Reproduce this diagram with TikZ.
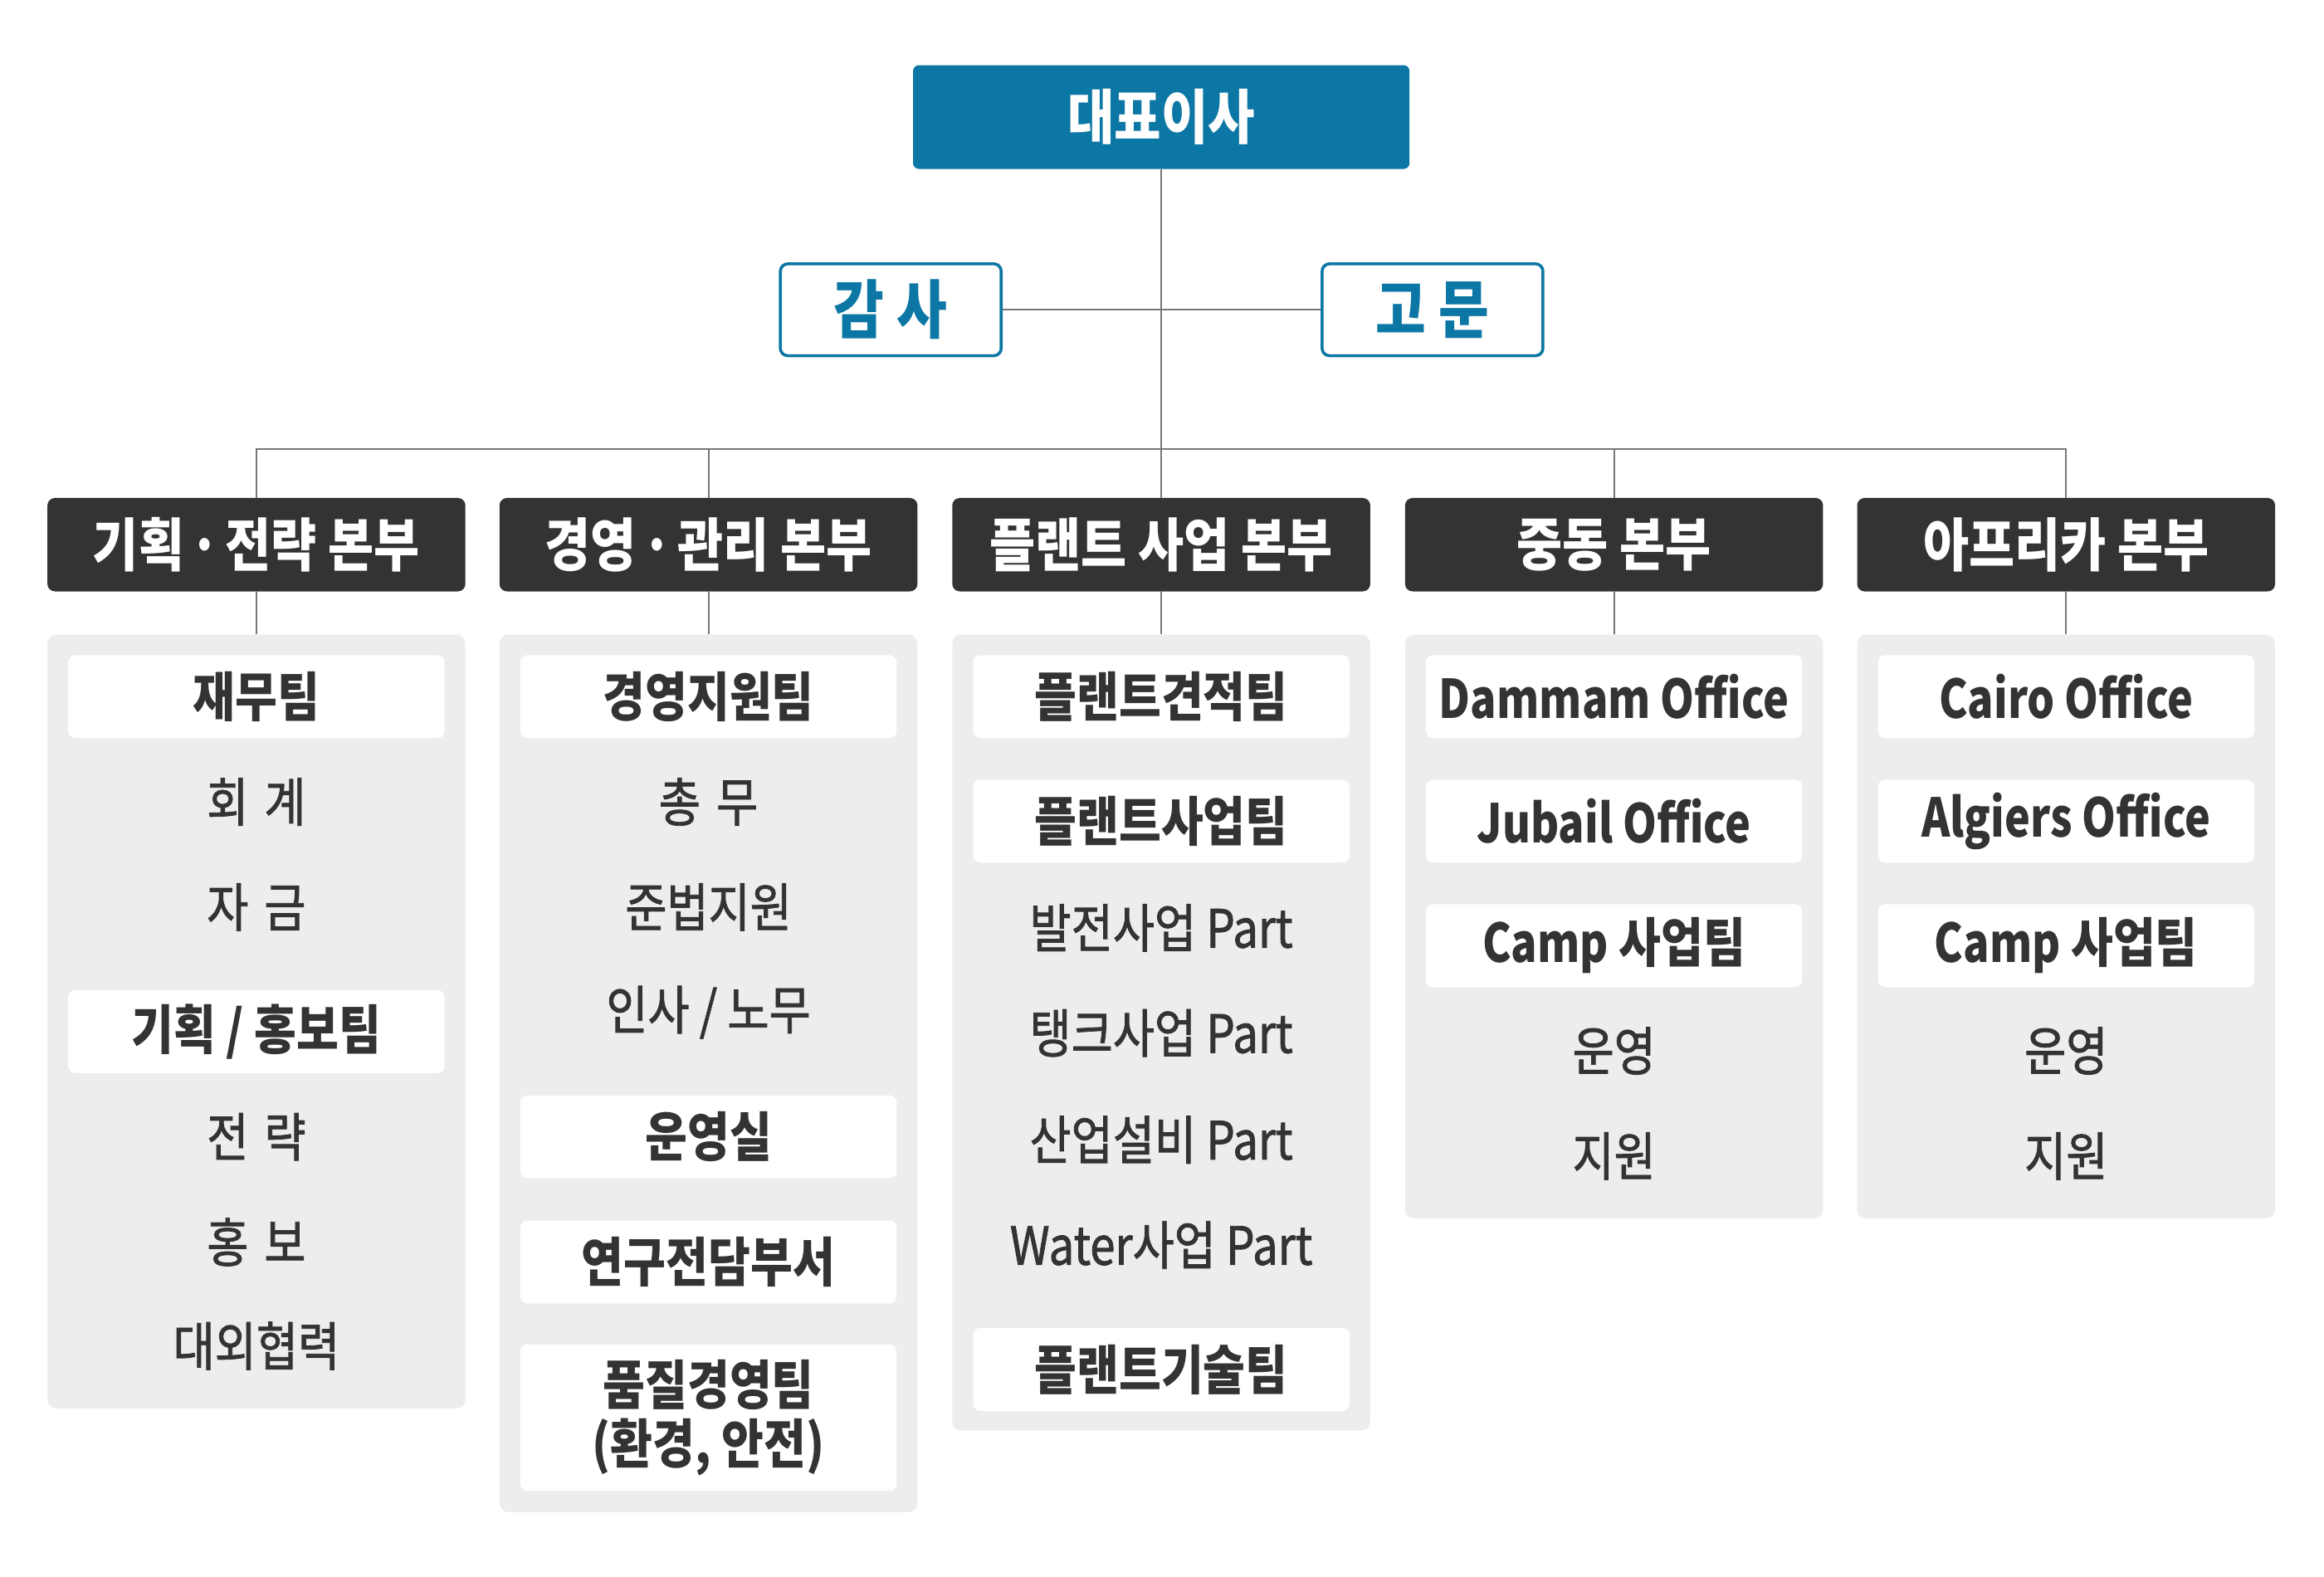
\documentclass[tikz,border=0pt]{standalone}
\usepackage{fontspec}
\setmainfont{Noto Sans CJK KR}[FakeStretch=0.86]
\newfontfamily\krm{Noto Sans CJK KR}[FakeStretch=0.86,FakeBold=1.3]
\newfontfamily\lat{Noto Sans CJK KR}[FakeStretch=0.81]
\definecolor{ceoblue}{HTML}{0C76A4}
\definecolor{darkc}{HTML}{333333}
\definecolor{panelc}{HTML}{EDEDED}
\definecolor{linec}{HTML}{777777}
\newcommand{\mdot}{\makebox[0.32em]{·}}
\tikzset{
  ceobox/.style={rectangle, rounded corners=4pt, fill=ceoblue, text=white, font=\fontsize{40}{44}\selectfont\bfseries, minimum width=335pt, minimum height=70pt, inner sep=0pt},
  sidebox/.style={rectangle, rounded corners=5pt, draw=ceoblue, line width=2pt, fill=white, text=ceoblue, font=\fontsize{43}{46}\selectfont\bfseries, minimum width=149pt, minimum height=62pt, inner sep=0pt},
  headbox/.style={rectangle, rounded corners=5pt, fill=darkc, text=white, font=\fontsize{39}{42}\selectfont\bfseries, minimum width=282pt, minimum height=63pt, inner sep=0pt},
  panelbox/.style={rectangle, rounded corners=6pt, fill=panelc, minimum width=282pt, inner sep=0pt, anchor=north},
  teambox/.style={rectangle, rounded corners=5pt, fill=white, text=darkc, font=\fontsize{36}{40}\selectfont\bfseries, minimum width=254pt, minimum height=56pt, inner sep=0pt, align=center},
  itemtxt/.style={text=darkc, font=\krm\fontsize{35.5}{38}\selectfont, inner sep=0pt},
  conn/.style={draw=linec, line width=1.2pt}
}
\begin{document}
\begin{tikzpicture}[x=1pt,y=-1pt]
\useasboundingbox (0,0) rectangle (1568,1064);
% top
\node[ceobox] (ceo) at (783.5,79) {대표이사};
\node[sidebox] (gamsa) at (601,209) {감 사};
\node[sidebox] (gomun) at (966.5,209) {고 문};
\coordinate (bus) at (783.5,303);
% headers
\node[headbox] (h1) at (173,367.5) {기획 \mdot{} 전략 본부};
\node[headbox] (h2) at (478,367.5) {경영 \mdot{} 관리 본부};
\node[headbox] (h3) at (783.5,367.5) {플랜트 사업 본부};
\node[headbox] (h4) at (1089,367.5) {중동 본부};
\node[headbox] (h5) at (1394,367.5) {아프리카 본부};
% panels
\node[panelbox, minimum height=522pt] (p1) at (173,428) {};
\node[panelbox, minimum height=592pt] (p2) at (478,428) {};
\node[panelbox, minimum height=537pt] (p3) at (783.5,428) {};
\node[panelbox, minimum height=394pt] (p4) at (1089,428) {};
\node[panelbox, minimum height=394pt] (p5) at (1394,428) {};
% connectors
\draw[conn] (ceo.south) -- (bus);
\draw[conn] (gamsa.east) -- (gomun.west);
\draw[conn] (h1.north) |- (bus) -| (h5.north);
\draw[conn] (h2.north) -- (h2.north |- bus);
\draw[conn] (h3.north) -- (bus);
\draw[conn] (h4.north) -- (h4.north |- bus);
\foreach \i in {1,...,5} { \draw[conn] (h\i.south) -- (p\i.north); }
% column 1
\node[teambox] (c1a) at (173,470) {재무팀};
\node[itemtxt] (c1b) at (173,541) {회\hspace{0.3em}계};
\node[itemtxt] (c1c) at (173,612) {자\hspace{0.3em}금};
\node[teambox] (c1d) at (173,696) {기획 / 홍보팀};
\node[itemtxt] (c1e) at (173,767) {전\hspace{0.3em}략};
\node[itemtxt] (c1f) at (173,838) {홍\hspace{0.3em}보};
\node[itemtxt] (c1g) at (173,908) {대외협력};
% column 2
\node[teambox] (c2a) at (478,470) {경영지원팀};
\node[itemtxt] (c2b) at (478,541) {총\hspace{0.3em}무};
\node[itemtxt] (c2c) at (478,612) {준법지원};
\node[itemtxt] (c2d) at (478,683) {인사 / 노무};
\node[teambox] (c2e) at (478,767) {운영실};
\node[teambox] (c2f) at (478,851.5) {연구전담부서};
\node[teambox, minimum height=99pt] (c2g) at (478,956.5) {품질경영팀\\(환경, 안전)};
% column 3
\node[teambox] (c3a) at (783.5,470) {플랜트견적팀};
\node[teambox] (c3b) at (783.5,554) {플랜트사업팀};
\node[itemtxt] (c3c) at (783.5,626) {발전사업 Part};
\node[itemtxt] (c3d) at (783.5,697) {탱크사업 Part};
\node[itemtxt] (c3e) at (783.5,769) {산업설비 Part};
\node[itemtxt] (c3f) at (783.5,840) {Water사업 Part};
\node[teambox] (c3g) at (783.5,924) {플랜트기술팀};
% column 4
\node[teambox] (c4a) at (1089,470) {\lat\bfseries Dammam Office};
\node[teambox] (c4b) at (1089,554) {\lat\bfseries Jubail Office};
\node[teambox] (c4c) at (1089,638) {{\lat\bfseries Camp} 사업팀};
\node[itemtxt] (c4d) at (1089,709) {운영};
\node[itemtxt] (c4e) at (1089,780) {지원};
% column 5
\node[teambox] (c5a) at (1394,470) {\lat\bfseries Cairo Office};
\node[teambox] (c5b) at (1394,554) {\lat\bfseries Algiers Office};
\node[teambox] (c5c) at (1394,638) {{\lat\bfseries Camp} 사업팀};
\node[itemtxt] (c5d) at (1394,709) {운영};
\node[itemtxt] (c5e) at (1394,780) {지원};
\end{tikzpicture}
\end{document}
